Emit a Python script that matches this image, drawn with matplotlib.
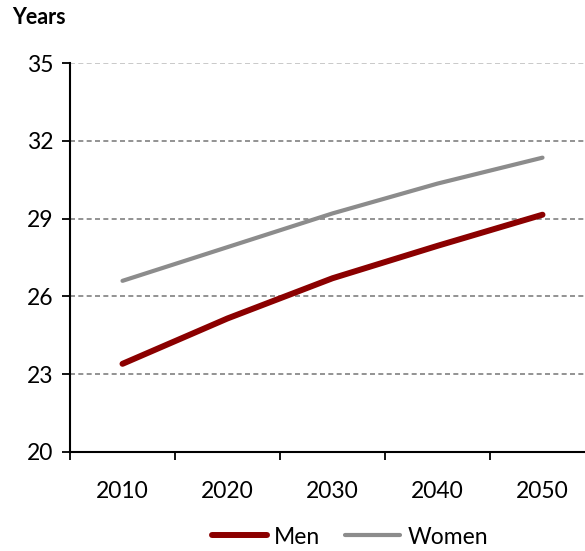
import matplotlib
matplotlib.use('Agg')
import matplotlib.pyplot as plt
import numpy as np

plt.rcParams['font.family'] = ['Lato', 'DejaVu Sans']

years = ['2010', '2020', '2030', '2040', '2050']
men = [23.4, 25.15, 26.7, 27.95, 29.15]
women = [26.6, 27.9, 29.2, 30.35, 31.35]
yticks = [20, 23, 26, 29, 32, 35]

fig = plt.figure(figsize=(5.85, 5.51), dpi=100)
# axes right edge runs past the figure edge, as in the reference
ax = fig.add_axes([70 / 585, 99 / 551, 525 / 585, 389 / 551])

x = np.arange(len(years)) + 0.5
ax.plot(x, men, color='#8b0000', lw=4.3, solid_capstyle='round', label='Men', zorder=3)
ax.plot(x, women, color='#8c8c8c', lw=3.0, solid_capstyle='round', label='Women', zorder=3)

ax.set_xlim(0, len(years))
ax.set_ylim(20, 35)
ax.set_yticks(yticks)
ax.set_xticks(np.arange(len(years) + 1))
ax.set_xticklabels([])
ax.set_xticks(x, minor=True)
ax.set_xticklabels(years, minor=True)
ax.tick_params(axis='x', which='minor', length=0, pad=21, labelsize=16.5)
ax.tick_params(axis='x', which='major', direction='out', length=6, width=1.3)
ax.tick_params(axis='y', direction='out', length=6, width=1.3, labelsize=16.5, pad=6)

for v in yticks[1:]:
    c = '#c0c0c0' if v == 35 else '#808080'
    ax.axhline(v, color=c, lw=1.2, ls=(0, (3, 2)), zorder=1)

for s in ['top', 'right']:
    ax.spines[s].set_visible(False)
ax.spines['left'].set_linewidth(1.5)
ax.spines['bottom'].set_linewidth(1.5)

fig.text(12 / 585, 1 - 18 / 551, 'Years', fontsize=15.5, fontweight='bold', va='center', ha='left')

fig.legend(loc='center', bbox_to_anchor=(350 / 585, 1 - 537 / 551), ncol=2, frameon=False,
           fontsize=16.5, handlelength=2.4, handletextpad=0.3, columnspacing=1.1)

fig.savefig('out.png', dpi=100)
